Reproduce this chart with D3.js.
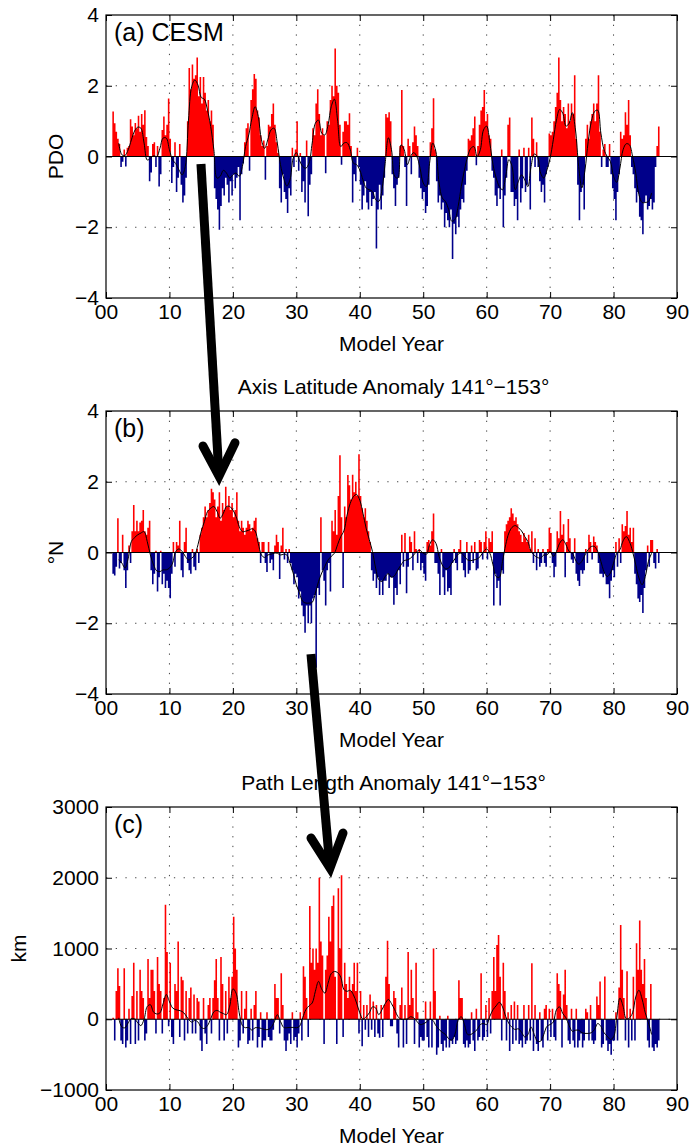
<!DOCTYPE html>
<html><head><meta charset="utf-8">
<script src="https://cdn.jsdelivr.net/npm/d3@7"></script>
<style>
body{margin:0;background:#fff}
svg{display:block}
text{font-family:"Liberation Sans",Arial,Helvetica,sans-serif;fill:#000}
</style>
</head><body>
<svg id="chart" width="696" height="1147"></svg>
<script>
// ---------------- data (quarterly values, first bar starts at model year 1.0) ----------------
const startYear = 1, step = 0.25;

const pdo = [
 1.27,0.94,0.7,0.5, 0.35,-0.3,-0.15,0.2, -0.28,0.25,0.3,1.05, 0.85,0.6,0.95,0.8, 1.15,0.7,1.2,0.9,
 1.31,0.55,0.3,-0.7, -0.45,0.35,0.4,-0.3, 0.3,-0.85,-0.5,0.75, 1.13,0.6,0.9,1.64, 0.5,-0.75,-0.3,0.4,
 -1.0,-0.6,0.35,-0.8, -1.3,-1.1,-0.6,1.0, 2.5,1.9,2.6,2.2, 2.3,2.8,1.7,2.25, 1.5,2.25,1.8,1.3,
 1.6,1.0,1.3,0.9, -0.9,-1.2,-1.5,-2.07, -1.4,-0.9,-1.1,-0.6, -0.8,-1.3,-0.7,-1.1, -0.5,-0.9,-0.6,-0.3,
 -1.8,-0.5,-0.2,0.4, 0.8,0.94,-0.4,1.6, 1.9,2.33,2.2,1.3, 1.1,0.6,0.3,0.45, -0.66,0.3,0.9,0.85,
 1.2,1.5,0.9,0.4, 0.1,-0.9,-1.3,-0.5, -1.0,-1.2,-1.6,-0.9, -1.1,0.25,-0.3,0.2, 1.0,-0.4,0.1,-1.0,
 -0.7,-1.3,0.45,-1.69, -0.8,-0.5,0.8,0.6, 1.5,1.9,1.2,0.6, 0.8,0.6,-0.47,1.0, 0.9,1.6,2.0,1.7,
 3.05,2.0,1.8,0.9, -0.23,0.7,1.0,1.0, 0.9,1.22,0.3,-1.3, -0.5,-0.7,0.25,-0.3, -0.8,-1.5,-1.1,-0.7,
 -1.3,-1.5,-1.0,-1.4, -1.2,-1.0,-2.6,-1.5, -0.8,-1.5,-1.1,-0.6, 1.2,1.1,1.25,1.0, -0.5,-0.9,-1.4,-0.8,
 -0.6,0.3,1.88,0.3, -0.3,-1.4,0.5,0.3, -0.5,0.4,0.85,0.6, 0.3,-0.6,-0.9,-1.2, -1.0,-1.6,-1.4,-0.8,
 0.4,0.8,1.65,0.2, -0.7,-1.3,-1.1,-1.5, -1.3,-2.0,-1.6,-1.8, -2.0,-1.5,-2.9,-1.9, -2.2,-1.7,-2.0,-1.5,
 -1.2,-1.3,-0.8,-0.4, 0.5,0.45,0.6,0.8, 1.13,-0.25,0.3,0.9, 1.3,1.4,1.88,1.0, 1.2,0.6,0.5,-0.4,
 -0.6,-1.1,-1.4,-0.9, -1.2,0.2,-2.0,-1.1, -0.6,0.9,1.1,-1.0, -1.0,-1.4,-1.2,-1.8, 0.2,-1.3,-0.9,0.25,
 -1.0,-0.8,0.25,-1.5, 1.1,0.5,-0.3,0.4, -0.3,-0.7,-1.0,-0.8, -1.3,-0.5,-0.3,0.65, 0.6,0.7,1.0,1.4,
 1.8,2.8,1.6,1.0, 1.4,1.2,0.8,1.5, 1.0,1.5,1.2,2.3, 0.5,-0.8,-1.8,-1.0, -0.8,-1.5,0.5,0.9,
 0.5,1.0,1.2,1.5, 1.0,1.5,2.3,0.7, -0.3,0.2,0.35,-0.3, -0.3,0.35,-0.5,-0.9, -1.2,-1.8,-1.0,-0.5,
 0.7,0.5,0.6,1.25, 0.9,1.6,0.6,-0.3, -0.5,-0.9,-1.3,-1.0, -1.7,-1.8,-2.2,-1.3, -1.1,-1.5,-1.4,-1.2,
 -1.5,-1.3,-0.3,0.3, 0.85
];

const latAnom = [
 -0.6,-0.65,-0.4,0.97, -0.45,-0.3,0.5,-0.5, -1.0,-0.5,0.2,-0.3, 0.6,1.34,0.6,0.9, 0.6,0.85,0.9,1.2,
 0.6,0.5,0.7,0.9, -0.5,-0.9,-0.6,0.05, -1.1,-0.7,0.05,-0.9, -0.6,-1.0,-0.8,-1.0, -1.29,-0.6,0.3,-0.4,
 0.3,0.2,0.9,-0.5, -0.7,0.3,0.7,-0.3, -0.5,-0.6,0.1,-0.4, -0.5,0.1,-0.3,0.5, 0.7,1.0,1.3,1.0,
 1.2,1.4,1.8,1.7, 1.5,1.0,1.3,1.7, 0.9,1.4,1.2,1.86, 1.3,1.6,1.2,1.4, 1.0,1.2,1.7,0.9,
 0.6,0.9,0.7,0.5, 0.7,0.9,0.8,0.6, 0.7,0.9,0.98,0.4, 0.3,-0.3,0.3,0.3, -0.3,-0.55,0.3,-0.3,
 -0.2,-0.5,0.2,0.5, 0.3,-0.75,0.2,0.7, -0.2,0.1,-0.3,0.1, -0.3,-0.5,-0.9,-0.6, -0.7,-1.3,-1.1,-1.5,
 -1.8,-2.27,-1.5,-2.0, -1.5,-2.0,-1.3,-1.2, -3.26,-1.0,-1.2,1.0, -0.5,-0.8,-1.5,-0.5, -0.3,-1.1,0.9,0.6,
 1.2,0.5,1.6,2.75, 1.0,-1.0,1.3,1.0, 2.19,1.9,1.5,2.2, 1.7,2.0,1.6,2.78, 1.6,1.25,1.0,1.25,
 0.9,0.6,0.3,-0.5, -0.8,-0.6,-1.0,-0.7, -1.2,-0.8,-1.2,-0.8, -0.8,-0.6,-1.0,-0.7, -0.7,-1.48,-1.0,-1.2,
 -0.5,-0.9,0.5,-0.4, 0.55,-1.15,-0.4,0.45, 0.3,-0.5,0.6,0.1, -0.3,0.1,-0.5,-0.3, -0.6,-0.8,0.3,0.35,
 0.2,0.6,1.1,-0.3, -0.3,-0.6,-1.2,0.1, -0.7,-1.2,-0.5,-1.1, -1.0,-1.2,-0.3,0.1, -0.3,-0.5,0.1,0.35,
 -0.3,-0.5,-0.7,0.3, -0.6,-0.5,0.2,-0.3, 0.3,-0.5,-0.45,0.35, 0.3,-0.2,0.3,0.6, -0.2,0.4,0.3,0.6,
 -1.5,-0.6,-1.0,-0.8, -1.5,-0.5,-0.6,0.6, 0.8,0.9,1.0,1.25, 1.1,0.9,1.0,0.8, 0.6,0.5,0.3,0.55,
 0.4,0.3,0.5,0.1, 0.6,-0.3,0.4,-0.5, 0.1,-0.4,-0.3,0.1, -0.3,-0.4,0.1,0.7, 0.55,-0.3,-0.7,-0.4,
 0.6,0.4,1.17,0.5, 0.8,-0.7,0.3,0.95, 0.4,-0.2,-0.3,0.4, -0.6,-0.8,-0.95,-0.5, -0.6,-0.5,0.1,-0.3,
 0.5,0.3,-0.2,0.45, 0.3,0.2,-0.3,-0.6, -0.6,-0.7,-0.6,-0.9, -0.9,-1.29,-0.8,-0.5, -0.7,0.3,-0.4,0.4,
 -0.3,0.8,0.6,0.75, 1.17,0.5,0.7,0.3, 0.7,-0.6,-0.9,-1.3, -1.4,-1.2,-1.71,-1.0, -0.5,0.2,-0.4,0.35,
 0.35,-0.3,-0.45,0.1, -0.3
];

const pathLen = [
 20,-300,400,720, 470,-300,-350,720, -400,-300,150,-350, 330,800,-350,400, -300,700,400,300,
 -300,-200,850,300, 700,700,400,-200, 880,500,400,-200, 300,1620,950,-100, 800,-250,-350,500,
 400,1100,-250,600, 550,-300,400,-200, 300,450,-200,350, -200,300,250,-300, -450,300,-200,-350,
 200,300,-200,300, 550,850,300,-300, 880,500,-300,400, -200,600,300,600, 1450,1000,700,-400,
 -300,400,-200,150, 400,-350,-300,150, -300,200,400,-400, -250,100,-400,-300, -300,100,-250,-300,
 -300,-150,500,300, 300,-200,650,200, -300,-450,-300,-200, -350,100,-300,-250, -400,-200,100,-300,
 750,600,300,-250, 1600,800,1000,700, 1000,800,2000,1100, 900,-350,700,900, 1450,1100,1600,1750,
 600,-350,1850,1000, 2037,-250,800,500, 300,600,400,500, 800,400,800,-200, 400,-380,200,-150,
 200,-250,350,-150, 250,-250,200,-200, -260,200,-250,200, 600,1110,500,-100, -100,400,300,-200,
 -400,200,450,-400, 200,-350,950,200, 700,300,-350,800, 100,-400,-250,-300, -300,250,-250,-400,
 250,-400,1000,400, -500,-400,50,-350, -450,-300,-400,50, -400,-300,-350,-250, -350,-300,550,300,
 300,-350,-400,-300, -400,-350,100,-300, -450,150,-300,-250, 650,-300,-250,200, -250,300,-200,400,
 880,400,1050,1190, 600,-300,800,400, -300,100,-450,200, -350,250,-300,200, -350,-300,-400,200,
 -350,-300,200,-300, 790,-450,200,-350, -450,100,-300,-400, 150,200,-300,150, -250,150,-250,-300,
 650,500,400,-400, 350,700,200,-300, -350,150,-300,-400, 150,-400,-300,-200, -400,-300,150,100,
 -300,200,-300,-350, -300,320,200,535, -400,-350,605,-300, -450,-350,-500,-300, -300,100,-300,450,
 1333,700,300,-300, 680,-400,150,-300, 600,-300,1075,700, 1395,700,500,850, 300,-300,-400,500,
 -400,-450,-350,-400, -300
];

// smoothed curves, half-year steps starting at model year 2.0
const smoothStart = 2, smoothStep = 0.5;

const pdoSmooth = [
 0.38,0.05,0.03,0.19,0.47,0.72,0.83,0.8,0.38,-0.1,-0.05,0.02,0.0,0.23,0.52,0.52,0.19,-0.1,-0.2,-0.38,
 -0.52,-0.28,1.03,1.97,2.16,2.02,1.67,1.62,1.31,0.85,0.19,-0.61,-0.56,-0.39,-0.47,-0.61,-0.52,-0.47,-0.56,-0.28,
 0.28,0.61,1.08,1.41,1.13,0.47,0.23,0.47,0.75,0.8,0.38,-0.23,-0.61,-0.83,-0.66,-0.05,0.11,-0.11,-0.28,-0.33,
 -0.19,0.38,0.94,1.03,0.66,0.61,0.89,1.41,1.62,1.03,0.28,0.38,0.39,0.19,-0.19,-0.23,-0.38,-0.66,-0.89,-0.94,
 -0.99,-1.22,-1.27,-0.94,-0.19,0.53,0.19,-0.56,-0.61,0.33,0.19,-0.23,0.0,0.11,0.0,-0.33,-0.75,-0.85,-0.19,0.38,
 0.14,-0.75,-1.17,-1.27,-1.5,-1.83,-1.78,-1.41,-0.85,-0.38,0.0,0.23,0.28,0.0,0.19,0.75,0.86,0.38,-0.23,-0.61,
 -0.85,-0.94,-0.56,-0.09,-0.28,-0.94,-0.7,-0.52,-0.66,-0.85,-0.28,0.07,0.0,-0.47,-0.61,-0.38,-0.05,0.47,1.03,1.33,
 1.22,0.86,0.94,1.24,0.75,-0.28,-0.89,-0.38,0.42,0.99,1.27,1.31,0.66,0.19,0.0,-0.14,-0.56,-0.73,-0.33,0.19,
 0.36,0.33,0.0,-0.47,-1.08,-1.3,-1.3,-1.27,-1.03
];

const latSmooth = [
 -0.21,-0.3,-0.44,-0.16,0.31,0.42,0.5,0.55,0.59,0.31,-0.07,-0.35,-0.52,-0.54,-0.49,-0.49,-0.44,-0.3,0.03,0.1,
 0.03,-0.11,-0.21,-0.16,-0.07,0.22,0.59,0.87,1.16,1.25,1.3,1.16,0.97,1.11,1.3,1.3,1.2,1.02,0.73,0.59,
 0.6,0.63,0.67,0.61,0.26,-0.07,-0.14,-0.07,-0.05,-0.02,-0.02,-0.07,-0.05,-0.07,-0.3,-0.58,-0.91,-1.15,-1.38,-1.43,
 -1.43,-1.41,-1.15,-0.82,-0.58,-0.39,-0.21,-0.11,-0.02,0.22,0.45,0.61,1.06,1.39,1.58,1.64,1.48,1.11,0.69,0.36,
 0.03,-0.44,-0.77,-0.82,-0.68,-0.6,-0.7,-0.65,-0.49,-0.35,-0.23,-0.21,-0.16,-0.07,0.03,0.06,-0.02,-0.05,0.22,0.36,
 0.26,-0.11,-0.35,-0.46,-0.44,-0.3,-0.18,-0.05,-0.02,-0.11,-0.21,-0.23,-0.21,-0.18,-0.11,0.03,0.1,-0.02,-0.35,-0.68,
 -0.7,-0.25,0.22,0.55,0.71,0.76,0.7,0.61,0.45,0.31,0.03,-0.08,-0.14,-0.16,-0.07,-0.07,0.03,-0.11,0.03,0.26,
 0.36,0.22,0.03,-0.02,-0.21,-0.33,-0.25,-0.07,0.08,0.17,0.17,0.03,-0.25,-0.54,-0.68,-0.58,-0.3,-0.02,0.08,0.33,
 0.45,0.31,0.03,-0.35,-0.72,-0.91,-0.68,-0.25,-0.02
];

const lenSmooth = [
 20,-110,-120,-50,10,5,-50,-90,0,180,205,100,75,90,220,350,250,160,135,125,
 110,65,0,-40,-15,-40,-115,-130,-90,5,105,125,100,80,65,185,430,370,90,-90,
 -120,-115,-155,-120,-120,-130,-145,-145,-120,-40,65,-30,-115,-120,-115,-115,-120,-100,20,135,
 190,230,395,535,425,370,510,645,675,660,595,420,395,410,345,230,90,0,35,90,
 175,160,65,135,220,280,220,135,40,0,0,5,35,20,-30,-75,-65,-40,0,-15,
 -90,-145,-185,-215,-275,-295,-215,-15,35,-75,-215,-215,-185,-145,-75,-60,-75,40,135,190,
 240,175,40,-60,-115,-145,-135,-185,-250,-215,-110,-215,-310,-310,-215,-100,-75,-40,135,175,
 80,20,-90,-170,-155,-155,-190,-200,-200,-190,-145,-60,-100,-190,-240,-285,-250,20,300,185,
 5,20,90,315,410,285,90,-50,-215
];

// axes ticks
const xTickValues = [0,10,20,30,40,50,60,70,80,90];
const xTickLabels = ["00","10","20","30","40","50","60","70","80","90"];
const pdoTicks = [-4,-2,0,2,4];
const latTicks = [-4,-2,0,2,4];
const lenTicks = [-1000,0,1000,2000,3000];

// annotation arrows: [year, value, panel index]
const arrowShafts = [
 [[14.97,-0.21,0],[17.81,2.16,1]],
 [[32.31,-2.87,1],[35.31,2138,2]]
];
const arrowHeads = [
 [[15.29,3.01,1],[17.81,2.16,1],[20.33,3.10,1]],
 [[32.31,2562,2],[35.31,2138,2],[37.36,2632,2]]
];

// ---------------- drawing ----------------
const svg = d3.select("#chart");
const left = 106, right = 677, ph = 283;
const RED = "#ff0000", BLUE = "#00008a";
const FONT = "Liberation Sans, Arial, Helvetica, sans-serif";
const x = d3.scaleLinear().domain([0, 90]).range([left, right]);
const minusFmt = d => (d < 0 ? "\u2212" + Math.abs(d) : String(d));

const panels = [
 {tag:"(a) CESM", data:pdo, smooth:pdoSmooth, domain:[-4,4], ticks:pdoTicks, ylabel:"PDO", ylabelX:63, top:15, title:null},
 {tag:"(b)", data:latAnom, smooth:latSmooth, domain:[-4,4], ticks:latTicks, ylabel:"°N", ylabelX:63, top:411, title:"Axis Latitude Anomaly 141°\u2212153°"},
 {tag:"(c)", data:pathLen, smooth:lenSmooth, domain:[-1000,3000], ticks:lenTicks, ylabel:"km", ylabelX:26, top:807, title:"Path Length Anomaly 141°\u2212153°"}
];

panels.forEach(p => {
  const y = d3.scaleLinear().domain(p.domain).range([p.top + ph, p.top]);
  p.y = y;
  const g = svg.append("g");

  // dotted grid
  g.append("g").selectAll("line").data(xTickValues.slice(1, -1)).join("line")
    .attr("x1", d => x(d)).attr("x2", d => x(d))
    .attr("y1", p.top).attr("y2", p.top + ph)
    .attr("stroke", "#444").attr("stroke-width", 1).attr("stroke-dasharray", "1.3,8.4");
  g.append("g").selectAll("line").data(p.ticks.slice(1, -1)).join("line")
    .attr("y1", d => y(d)).attr("y2", d => y(d))
    .attr("x1", left).attr("x2", right)
    .attr("stroke", "#444").attr("stroke-width", 1).attr("stroke-dasharray", "1.3,8.4");

  // bars: one stepped outline per sign so adjacent bars join without seams
  const pts = p.data.map((v, i) => ({t: startYear + i * step, v}));
  pts.push({t: startYear + p.data.length * step, v: p.data[p.data.length - 1]});
  const posArea = d3.area().curve(d3.curveStepAfter)
    .x(d => x(d.t)).y0(y(0)).y1(d => y(Math.max(d.v, 0)));
  const negArea = d3.area().curve(d3.curveStepAfter)
    .x(d => x(d.t)).y0(y(0)).y1(d => y(Math.min(d.v, 0)));
  g.append("path").datum(pts).attr("d", posArea).attr("fill", RED);
  g.append("path").datum(pts).attr("d", negArea).attr("fill", BLUE);

  // baseline
  g.append("line").attr("x1", left).attr("x2", right)
    .attr("y1", y(0)).attr("y2", y(0)).attr("stroke", "#000").attr("stroke-width", 1);

  // smoothed curve
  const line = d3.line()
    .x((d, i) => x(smoothStart + i * smoothStep))
    .y(d => y(d))
    .curve(d3.curveCatmullRom.alpha(0.5));
  g.append("path").datum(p.smooth).attr("d", line)
    .attr("fill", "none").attr("stroke", "#000").attr("stroke-width", 1);

  // axes (ticks pointing inward, MATLAB style)
  const fs = 21;
  const ax = (sel) => sel.select(".domain").remove();
  g.append("g").attr("transform", `translate(0,${p.top + ph})`)
    .call(d3.axisBottom(x).tickValues(xTickValues).tickFormat((d, i) => xTickLabels[i]).tickSize(-6).tickPadding(5.6))
    .call(ax).call(s => s.selectAll("text").attr("font-size", fs).attr("font-family", FONT).attr("fill", "#000"))
    .call(s => s.selectAll("line").attr("stroke", "#000"));
  g.append("g").attr("transform", `translate(0,${p.top})`)
    .call(d3.axisTop(x).tickValues(xTickValues).tickFormat("").tickSize(-6))
    .call(ax).call(s => s.selectAll("line").attr("stroke", "#000"));
  g.append("g").attr("transform", `translate(${left},0)`)
    .call(d3.axisLeft(y).tickValues(p.ticks).tickFormat(minusFmt).tickSize(-6).tickPadding(7))
    .call(ax).call(s => s.selectAll("text").attr("font-size", fs).attr("font-family", FONT).attr("fill", "#000"))
    .call(s => s.selectAll("line").attr("stroke", "#000"));
  g.append("g").attr("transform", `translate(${right},0)`)
    .call(d3.axisRight(y).tickValues(p.ticks).tickFormat("").tickSize(-6))
    .call(ax).call(s => s.selectAll("line").attr("stroke", "#000"));

  // box
  g.append("rect").attr("x", left).attr("y", p.top).attr("width", right - left).attr("height", ph)
    .attr("fill", "none").attr("stroke", "#000").attr("stroke-width", 1.2);

  // texts
  g.append("text").attr("x", left + 8).attr("y", p.top + 26).attr("font-size", 25).text(p.tag);
  g.append("text").attr("x", (left + right) / 2).attr("y", p.top + ph + 52.5)
    .attr("text-anchor", "middle").attr("font-size", fs).text("Model Year");
  g.append("text").attr("transform", `translate(${p.ylabelX},${p.top + ph / 2}) rotate(-90)`)
    .attr("text-anchor", "middle").attr("font-size", fs).text(p.ylabel);
  if (p.title) {
    g.append("text").attr("x", (left + right) / 2 + 2).attr("y", p.top - 17)
      .attr("text-anchor", "middle").attr("font-size", 21).text(p.title);
  }
});

// arrows
const pt = d => [x(d[0]), panels[d[2]].y(d[1])];
const arrowG = svg.append("g");
arrowShafts.forEach(s => {
  arrowG.append("path").attr("d", d3.line()(s.map(pt)))
    .attr("fill", "none").attr("stroke", "#000").attr("stroke-width", 9).attr("stroke-linecap", "butt");
});
arrowHeads.forEach(h => {
  arrowG.append("path").attr("d", d3.line()(h.map(pt)))
    .attr("fill", "none").attr("stroke", "#000").attr("stroke-width", 9)
    .attr("stroke-linecap", "round").attr("stroke-linejoin", "miter");
});
</script>
</body></html>
